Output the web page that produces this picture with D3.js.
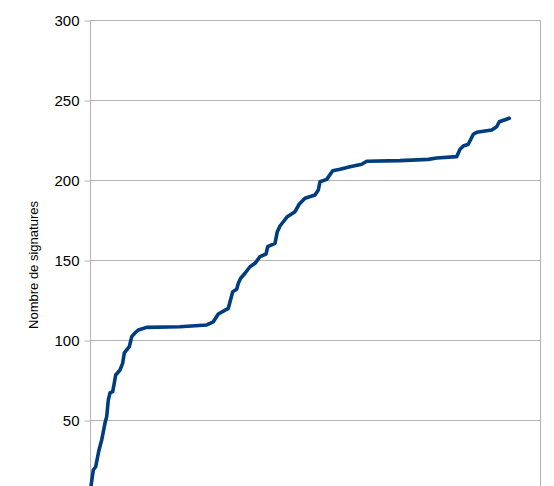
<!DOCTYPE html>
<html>
<head>
<meta charset="utf-8">
<script src="https://cdn.jsdelivr.net/npm/d3@7"></script>
<style>
  html, body { margin: 0; padding: 0; background: #fff; }
  svg { display: block; }
</style>
</head>
<body>
<script>
// Cumulative signatures (x = position along the time axis, y = count)
const days = [1, 3.3, 5.7, 9, 11.7, 15, 16.7, 18.3, 20, 22.7, 24.3, 25.7, 30, 32.7, 34.3, 39.3, 41.7, 45, 48.3, 56.7, 90, 116.7, 123.3, 128.3, 138.3, 142.7, 146.7, 148.3, 150.7, 155, 160, 165, 170, 176, 177.7, 185, 187.3, 190, 193.3, 197.3, 205, 209.3, 215, 225, 228.3, 230, 236.7, 242.7, 250, 260, 271.7, 276.7, 310, 338.3, 346.7, 366.7, 370, 373.3, 378.3, 383.3, 386.7, 401.7, 406.7, 409.3, 419.3];
const signatures = [8.75, 18.75, 20.8, 31.25, 37.5, 48.1, 52.1, 62.5, 66.9, 67.7, 73.1, 78.1, 81.25, 85.6, 91.9, 95.8, 102.1, 104.4, 106.25, 107.9, 108.3, 109.4, 111.4, 116.25, 119.8, 130.2, 131.7, 135.4, 138.6, 141.7, 145.8, 147.9, 152.1, 153.75, 158.3, 160.4, 167.7, 171.25, 173.9, 177.1, 180.2, 185, 188.6, 190.6, 193.75, 198.9, 200.4, 205.8, 206.7, 208.3, 209.8, 211.7, 212.1, 212.9, 213.75, 214.6, 219.2, 221.25, 222.3, 228.6, 229.8, 231.25, 233.3, 236.4, 238.6];
const yTicks = [50, 100, 150, 200, 250, 300];
const yLabel = "Nombre de signatures";

(function () {
const W = 554, H = 486;
const svg = d3.select("body").append("svg").attr("width", W).attr("height", H);

const mLeft = 90, mRight = 540, mTop = 20;
const x = d3.scaleLinear().domain([0, 450]).range([mLeft, mRight]);
const y = d3.scaleLinear().domain([0, 300]).range([500, mTop]);

// gridlines
svg.append("g").selectAll("line").data(yTicks).join("line")
  .attr("x1", mLeft).attr("x2", mRight)
  .attr("y1", d => y(d) + 0.5).attr("y2", d => y(d) + 0.5)
  .attr("stroke", "#b3b3b3").attr("stroke-width", 1);

// right border
svg.append("line").attr("x1", mRight + 0.5).attr("x2", mRight + 0.5)
  .attr("y1", y(300)).attr("y2", H)
  .attr("stroke", "#b3b3b3");

// y axis
const yAxis = d3.axisLeft(y).tickValues(yTicks).tickSize(6).tickPadding(5).tickFormat(d3.format("d"));
const ga = svg.append("g").attr("transform", `translate(${mLeft + 0.5},0.5)`).call(yAxis);
ga.select(".domain").attr("stroke", "#b3b3b3").attr("d", `M0,${y(300) - 0.5}V${H}`);
ga.selectAll(".tick line").attr("stroke", "#b3b3b3");
ga.selectAll(".tick text").attr("fill", "#000")
  .style("font-family", "'Liberation Sans', Arial, sans-serif").style("font-size", "15px")
  .attr("dy", "0.35em");

// y label
svg.append("text")
  .attr("transform", `translate(38,265) rotate(-90)`)
  .attr("text-anchor", "middle")
  .style("font-family", "'Liberation Sans', Arial, sans-serif").style("font-size", "13px")
  .attr("fill", "#000")
  .text(yLabel);

// line
const data = days.map((d, i) => [d, signatures[i]]);
svg.append("path").datum(data)
  .attr("fill", "none").attr("stroke", "#003d7e").attr("stroke-width", 3.6)
  .attr("stroke-linejoin", "round").attr("stroke-linecap", "round")
  .attr("d", d3.line().x(d => x(d[0])).y(d => y(d[1])));
})();
</script>
</body>
</html>
